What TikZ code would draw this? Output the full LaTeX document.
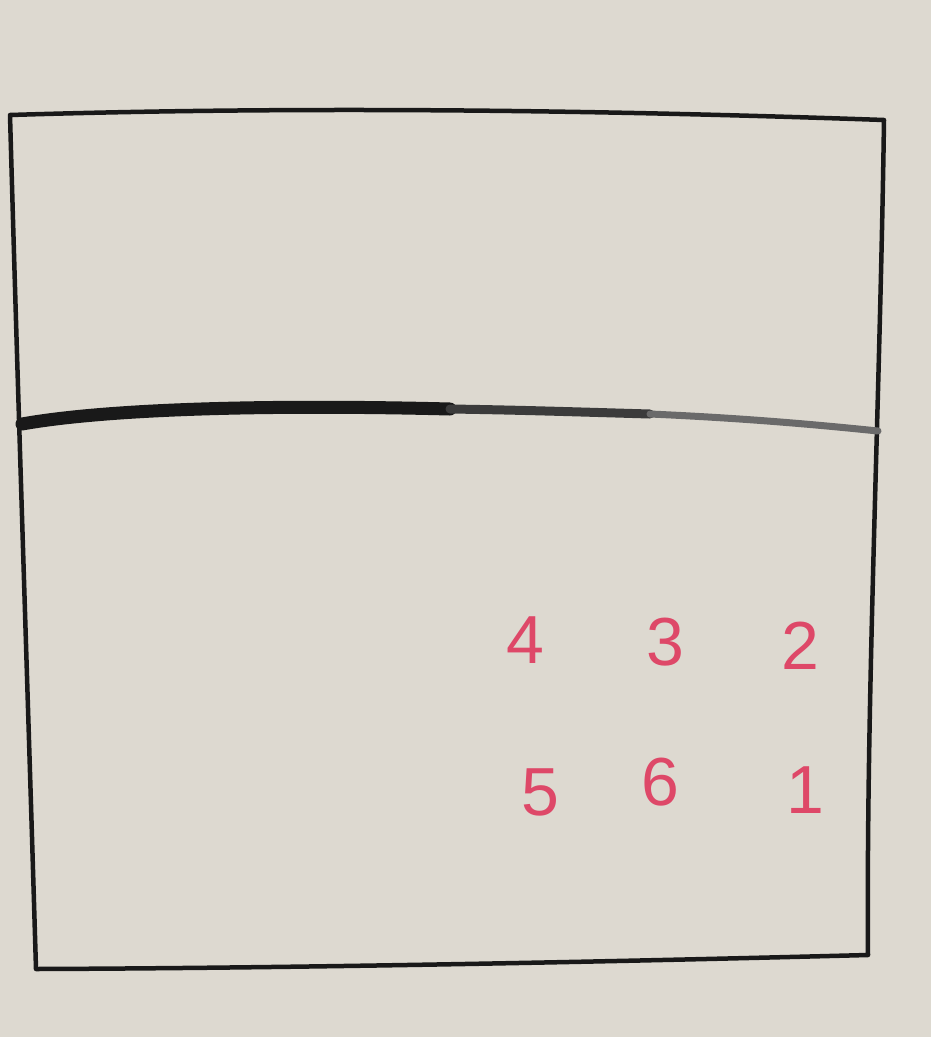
\documentclass[tikz,border=0pt]{standalone}
\usepackage{fontspec}
\setmainfont{Liberation Sans}
\usepackage{tikz}
\usetikzlibrary{positioning}
\definecolor{board}{RGB}{221,217,208}
\definecolor{marker}{RGB}{222,72,104}
\definecolor{ink}{RGB}{25,25,25}
\tikzset{num/.style={text=marker,font=\fontsize{68}{68}\selectfont,inner sep=0pt}}

\begin{document}
\begin{tikzpicture}[x=1pt,y=-1pt]
\fill[board] (0,0) rectangle (931,1037);
\useasboundingbox (0,0) rectangle (931,1037);
% outer frame
\draw[ink,line width=4.5pt,line cap=round,line join=round] (10,115) .. controls (300,106) and (600,110) .. (884,120)
  .. controls (880,400) and (866,700) .. (868,955)
  .. controls (600,962) and (300,968) .. (36,969)
  .. controls (28,700) and (18,400) .. cycle;
% dividing line
\draw[ink,line width=13pt,line cap=round] (22,424) .. controls (100,410) and (250,404) .. (450,409);
\draw[ink!85,line width=9pt,line cap=round] (450,409) .. controls (520,410) and (580,412) .. (650,414);
\draw[ink!65,line width=7pt,line cap=round] (650,414) .. controls (740,418) and (810,424) .. (878,431);
% numbers
\node[num] (n4) at (525,640) {4};
\node[num] (n3) at (665,642) {3};
\node[num] (n2) at (800,646) {2};
\node[num] (n5) at (540,792) {5};
\node[num] (n6) at (660,782) {6};
\node[num] (n1) at (805,790) {1};
\end{tikzpicture}
\end{document}
